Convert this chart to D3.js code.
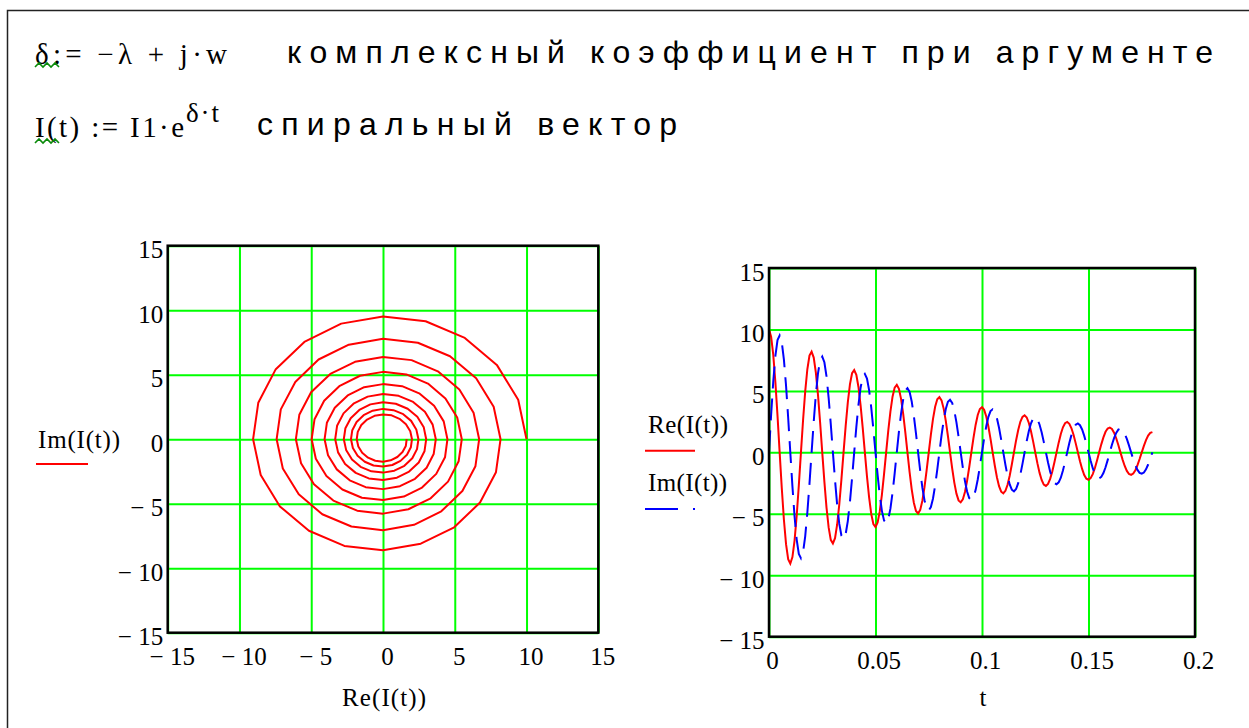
<!DOCTYPE html>
<html>
<head>
	<meta charset="utf-8">
	<title></title>
	<script src="https://d3js.org/d3.v7.min.js"></script>
	<style>
		body { margin: 0; background: #fff; }
		.serif { font-family: "Liberation Serif", "Times New Roman", serif; }
		.sans { font-family: "Liberation Sans", Arial, sans-serif; }
	</style>
</head>
<body>

<script>

var width = 1249
var height = 728

// t, s (step 0.001)
var tValues = [
	0.000, 0.001, 0.002, 0.003, 0.004, 0.005, 0.006, 0.007, 0.008, 0.009, 0.010, 0.011, 0.012, 0.013, 0.014, 0.015, 0.016, 0.017, 0.018, 0.019,
	0.020, 0.021, 0.022, 0.023, 0.024, 0.025, 0.026, 0.027, 0.028, 0.029, 0.030, 0.031, 0.032, 0.033, 0.034, 0.035, 0.036, 0.037, 0.038, 0.039,
	0.040, 0.041, 0.042, 0.043, 0.044, 0.045, 0.046, 0.047, 0.048, 0.049, 0.050, 0.051, 0.052, 0.053, 0.054, 0.055, 0.056, 0.057, 0.058, 0.059,
	0.060, 0.061, 0.062, 0.063, 0.064, 0.065, 0.066, 0.067, 0.068, 0.069, 0.070, 0.071, 0.072, 0.073, 0.074, 0.075, 0.076, 0.077, 0.078, 0.079,
	0.080, 0.081, 0.082, 0.083, 0.084, 0.085, 0.086, 0.087, 0.088, 0.089, 0.090, 0.091, 0.092, 0.093, 0.094, 0.095, 0.096, 0.097, 0.098, 0.099,
	0.100, 0.101, 0.102, 0.103, 0.104, 0.105, 0.106, 0.107, 0.108, 0.109, 0.110, 0.111, 0.112, 0.113, 0.114, 0.115, 0.116, 0.117, 0.118, 0.119,
	0.120, 0.121, 0.122, 0.123, 0.124, 0.125, 0.126, 0.127, 0.128, 0.129, 0.130, 0.131, 0.132, 0.133, 0.134, 0.135, 0.136, 0.137, 0.138, 0.139,
	0.140, 0.141, 0.142, 0.143, 0.144, 0.145, 0.146, 0.147, 0.148, 0.149, 0.150, 0.151, 0.152, 0.153, 0.154, 0.155, 0.156, 0.157, 0.158, 0.159,
	0.160, 0.161, 0.162, 0.163, 0.164, 0.165, 0.166, 0.167, 0.168, 0.169, 0.170, 0.171, 0.172, 0.173, 0.174, 0.175, 0.176, 0.177, 0.178, 0.179,
	0.180
]

// Re(I(t))
var reValues = [
	10.00, 9.42, 7.93, 5.70, 2.97, 0.00, -2.91, -5.48, -7.47, -8.69, -9.05, -8.52, -7.18, -5.16, -2.69, 0.00, 2.63, 4.96, 6.76, 7.87,
	8.19, 7.71, 6.49, 4.67, 2.43, 0.00, -2.38, -4.49, -6.11, -7.12, -7.41, -6.98, -5.87, -4.23, -2.20, 0.00, 2.16, 4.06, 5.53, 6.44,
	6.70, 6.31, 5.32, 3.82, 1.99, 0.00, -1.95, -3.67, -5.01, -5.83, -6.07, -5.71, -4.81, -3.46, -1.80, 0.00, 1.77, 3.32, 4.53, 5.27,
	5.49, 5.17, 4.35, 3.13, 1.63, 0.00, -1.60, -3.01, -4.10, -4.77, -4.97, -4.68, -3.94, -2.83, -1.47, 0.00, 1.45, 2.72, 3.71, 4.32,
	4.49, 4.23, 3.56, 2.56, 1.33, 0.00, -1.31, -2.46, -3.36, -3.91, -4.07, -3.83, -3.22, -2.32, -1.21, 0.00, 1.18, 2.23, 3.04, 3.53,
	3.68, 3.46, 2.92, 2.10, 1.09, 0.00, -1.07, -2.02, -2.75, -3.20, -3.33, -3.13, -2.64, -1.90, -0.99, 0.00, 0.97, 1.82, 2.49, 2.89,
	3.01, 2.84, 2.39, 1.72, 0.89, 0.00, -0.88, -1.65, -2.25, -2.62, -2.73, -2.57, -2.16, -1.56, -0.81, 0.00, 0.79, 1.49, 2.04, 2.37,
	2.47, 2.32, 1.96, 1.41, 0.73, 0.00, -0.72, -1.35, -1.84, -2.14, -2.23, -2.10, -1.77, -1.27, -0.66, 0.00, 0.65, 1.22, 1.67, 1.94,
	2.02, 1.90, 1.60, 1.15, 0.60, 0.00, -0.59, -1.11, -1.51, -1.76, -1.83, -1.72, -1.45, -1.04, -0.54, 0.00, 0.53, 1.00, 1.36, 1.59,
	1.65
]

// Im(I(t))
var imValues = [
	0.00, 3.06, 5.76, 7.85, 9.14, 9.51, 8.96, 7.54, 5.43, 2.82, 0.00, -2.77, -5.21, -7.10, -8.27, -8.61, -8.10, -6.83, -4.91, -2.56,
	0.00, 2.51, 4.72, 6.43, 7.48, 7.79, 7.33, 6.18, 4.44, 2.31, 0.00, -2.27, -4.27, -5.82, -6.77, -7.05, -6.64, -5.59, -4.02, -2.09,
	0.00, 2.05, 3.86, 5.26, 6.13, 6.38, 6.00, 5.06, 3.64, 1.89, 0.00, -1.86, -3.49, -4.76, -5.54, -5.77, -5.43, -4.58, -3.29, -1.71,
	0.00, 1.68, 3.16, 4.31, 5.02, 5.22, 4.92, 4.14, 2.98, 1.55, 0.00, -1.52, -2.86, -3.90, -4.54, -4.72, -4.45, -3.75, -2.69, -1.40,
	0.00, 1.38, 2.59, 3.53, 4.11, 4.27, 4.03, 3.39, 2.44, 1.27, 0.00, -1.24, -2.34, -3.19, -3.72, -3.87, -3.64, -3.07, -2.21, -1.15,
	0.00, 1.13, 2.12, 2.89, 3.36, 3.50, 3.30, 2.78, 2.00, 1.04, 0.00, -1.02, -1.92, -2.61, -3.04, -3.17, -2.98, -2.51, -1.81, -0.94,
	0.00, 0.92, 1.74, 2.36, 2.75, 2.87, 2.70, 2.27, 1.63, 0.85, 0.00, -0.83, -1.57, -2.14, -2.49, -2.59, -2.44, -2.06, -1.48, -0.77,
	0.00, 0.76, 1.42, 1.94, 2.25, 2.35, 2.21, 1.86, 1.34, 0.70, 0.00, -0.68, -1.29, -1.75, -2.04, -2.12, -2.00, -1.68, -1.21, -0.63,
	0.00, 0.62, 1.16, 1.58, 1.85, 1.92, 1.81, 1.52, 1.10, 0.57, 0.00, -0.56, -1.05, -1.43, -1.67, -1.74, -1.64, -1.38, -0.99, -0.52,
	0.00
]

var valueTicks = [-15, -10, -5, 0, 5, 10, 15]
var tTicks = [0, 0.05, 0.1, 0.15, 0.2]
var tTickLabels = ['0', '0.05', '0.1', '0.15', '0.2']

var svg = d3.select('body').append('svg')
	.attr('width', width)
	.attr('height', height)

// worksheet frame
svg.append('path')
	.attr('d', 'M1249,10.5 H7.5 V728')
	.attr('fill', 'none')
	.attr('stroke', '#222')
	.attr('stroke-width', 1.5)

function txt(cls, x, y, size, str, len) {
	var t = svg.append('text')
		.attr('class', cls)
		.attr('x', x)
		.attr('y', y)
		.style('font-size', size + 'px')
		.attr('fill', '#000')
		.text(str)
	if (len) t.attr('textLength', len).attr('lengthAdjust', 'spacing')
	return t
}

// header lines
txt('serif', 35, 64, 29, 'δ:= −λ + j·w', 192)
txt('sans', 287, 63, 32, 'комплексный коэффициент при аргументе', 926)
txt('serif', 35, 137, 29, 'I(t) := I1·e', 149)
txt('serif', 186, 122, 27, 'δ·t', 33)
txt('sans', 257, 135, 32, 'спиральный вектор', 420)

// mathcad squiggles
function squiggle(x0, y0, n) {
	var p = 'M' + x0 + ',' + (y0 + 4)
	for (var i = 0; i < n; i++) {
		p += ' L' + (x0 + i * 8 + 4) + ',' + y0 + ' L' + (x0 + i * 8 + 8) + ',' + (y0 + 4)
	}
	svg.append('path').attr('d', p).attr('fill', 'none')
		.attr('stroke', '#0a8a0a').attr('stroke-width', 1.6)
}
squiggle(35, 63, 3)
squiggle(35, 139, 3)

var fmt = function(d) { return d < 0 ? '− ' + Math.abs(d) : String(d) }

function grid(g, x, y, xTicks, yTicks, xFormat, xdx) {
	var r = x.range(), b = y.range()
	var w = r[1] - r[0], h = b[0] - b[1]

	var gx = g.append('g')
		.attr('transform', 'translate(0,' + b[0] + ')')
		.call(d3.axisBottom(x).tickValues(xTicks).tickSize(-h).tickFormat(xFormat))
	var gy = g.append('g')
		.attr('transform', 'translate(' + r[0] + ',0)')
		.call(d3.axisLeft(y).tickValues(yTicks).tickSize(-w).tickFormat(fmt))

	g.selectAll('.domain').remove()
	g.selectAll('.tick line').attr('stroke', '#00ff00').attr('stroke-width', 2)
	g.selectAll('.tick text')
		.attr('class', 'serif')
		.attr('fill', '#000')
		.style('font-size', '25px')
		.attr('font-family', null)
	gx.selectAll('.tick text').attr('y', 32).attr('dy', 0).attr('dx', xdx)
	gy.selectAll('.tick text').attr('x', -4.5).attr('dy', 0).attr('y', 12)

	return { w: w, h: h }
}

// ---------- left plot: Im vs Re ----------
var xL = d3.scaleLinear().domain([-15, 15]).range([167.7, 598.3])
var yL = d3.scaleLinear().domain([-15, 15]).range([632.7, 245.7])

var gL = svg.append('g')
var dimL = grid(gL, xL, yL, valueTicks, valueTicks, fmt, 4)

var spiral = reValues.map(function(d, i) { return [d, imValues[i]] })

gL.append('path')
	.datum(spiral)
	.attr('fill', 'none')
	.attr('stroke', '#ff0000')
	.attr('stroke-width', 2)
	.attr('stroke-linejoin', 'round')
	.attr('d', d3.line().x(function(d) { return xL(d[0]) }).y(function(d) { return yL(d[1]) }))

gL.append('rect')
	.attr('x', xL.range()[0]).attr('y', yL.range()[1])
	.attr('width', dimL.w).attr('height', dimL.h)
	.attr('fill', 'none').attr('stroke', '#000').attr('stroke-width', 2.5)

txt('serif', 38, 448, 25, 'Im(I(t))', 82)
svg.append('line').attr('x1', 36).attr('x2', 88).attr('y1', 464).attr('y2', 464)
	.attr('stroke', '#ff0000').attr('stroke-width', 2)

txt('serif', 384, 706, 25, 'Re(I(t))', 84).attr('text-anchor', 'middle')

// ---------- right plot: Re, Im vs t ----------
var xR = d3.scaleLinear().domain([0, 0.2]).range([769, 1195])
var yR = d3.scaleLinear().domain([-15, 15]).range([636.7, 268])

var gR = svg.append('g')
var dimR = grid(gR, xR, yR, tTicks, valueTicks, function(d, i) { return tTickLabels[i] }, 3)

gR.append('path')
	.datum(tValues)
	.attr('fill', 'none')
	.attr('stroke', '#ff0000')
	.attr('stroke-width', 2)
	.attr('d', d3.line().x(function(d) { return xR(d) }).y(function(d, i) { return yR(reValues[i]) }))

gR.append('path')
	.datum(tValues)
	.attr('fill', 'none')
	.attr('stroke', '#0000ff')
	.attr('stroke-width', 2)
	.attr('stroke-dasharray', '22,10')
	.attr('d', d3.line().x(function(d) { return xR(d) }).y(function(d, i) { return yR(imValues[i]) }))

gR.append('rect')
	.attr('x', xR.range()[0]).attr('y', yR.range()[1])
	.attr('width', dimR.w).attr('height', dimR.h)
	.attr('fill', 'none').attr('stroke', '#000').attr('stroke-width', 2.5)

txt('serif', 648, 433, 25, 'Re(I(t))', 80)
svg.append('line').attr('x1', 645).attr('x2', 695).attr('y1', 450.7).attr('y2', 450.7)
	.attr('stroke', '#ff0000').attr('stroke-width', 2)

txt('serif', 648, 491, 25, 'Im(I(t))', 79)
svg.append('line').attr('x1', 645).attr('x2', 696).attr('y1', 509).attr('y2', 509)
	.attr('stroke', '#0000ff').attr('stroke-width', 2)
	.attr('stroke-dasharray', '33,15,2,20')

txt('serif', 983, 706, 25, 't').attr('text-anchor', 'middle')

</script>

</body>
</html>
